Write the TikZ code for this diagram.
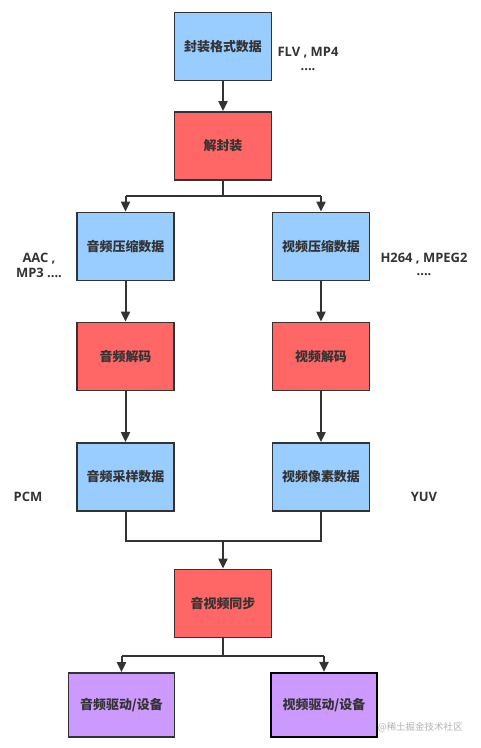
\documentclass[tikz,border=0pt]{standalone}
\usepackage{fontspec}
\setmainfont{Noto Sans CJK SC}
\newfontfamily\cjk{Noto Sans CJK SC}
\newfontfamily\latin{Open Sans}
\usetikzlibrary{arrows.meta}
\definecolor{bluefill}{HTML}{99CCFF}
\definecolor{redfill}{HTML}{FF6666}
\definecolor{purplefill}{HTML}{CC99FF}
\definecolor{edge}{HTML}{333333}
\definecolor{txt}{HTML}{333333}
\tikzset{
  box/.style={draw=edge, line width=1.8bp, minimum width=97bp, minimum height=68bp, inner sep=0pt,
    font=\cjk\bfseries\fontsize{13}{15}\selectfont, text=txt},
  bluebox/.style={box, fill=bluefill},
  redbox/.style={box, fill=redfill},
  purplebox/.style={box, fill=purplefill, minimum width=106bp, minimum height=64bp},
  conn/.style={draw=edge, line width=2bp},
  arr/.style={conn, -{Triangle[length=10bp,width=9bp]}},
  lbl/.style={font=\latin\bfseries\fontsize{13}{15}\selectfont, text=txt, align=center},
}
\begin{document}
\begin{tikzpicture}[x=1bp,y=-1bp]
\useasboundingbox[fill=white] (0,0) rectangle (481,748);
% nodes
\node[bluebox] (fmt) at (223,46.5) {封装格式数据};
\node[redbox] (demux) at (223,146) {解封装};
\node[bluebox] (acomp) at (125.5,246.5) {音频压缩数据};
\node[bluebox] (vcomp) at (321,246.5) {视频压缩数据};
\node[redbox] (adec) at (125.5,356.5) {音频解码};
\node[redbox] (vdec) at (321,356.5) {视频解码};
\node[bluebox] (araw) at (125.5,477) {音频采样数据};
\node[bluebox] (vraw) at (321,477) {视频像素数据};
\node[redbox] (sync) at (223,603.5) {音视频同步};
\node[purplebox] (aout) at (121.5,705) {音频驱动/设备};
\node[purplebox, draw=black, line width=2.2bp] (vout) at (324,705) {视频驱动/设备};
% labels
\node[lbl] (l1) at (308,53) {FLV , MP4};
\node[lbl] (l1b) at (308,70) {....};
\node[lbl] (l2) at (39,265) {AAC ,\\MP3 ....};
\node[lbl] (l3) at (424,259) {H264 , MPEG2};
\node[lbl] (l3b) at (424,275) {....};
\node[lbl] (l4) at (28,497) {PCM};
\node[lbl] (l5) at (424,497) {YUV};
\node[font=\cjk\fontsize{9.5}{11}\selectfont, text=black!30, anchor=east] (wm) at (466,727) {@稀土掘金技术社区};
% coordinates
\coordinate (s1) at (223,196);
\coordinate (sl) at (125.5,196);
\coordinate (sr) at (321,196);
\coordinate (m) at (223,541);
\coordinate (ml) at (125.5,541);
\coordinate (mr) at (321,541);
\coordinate (b) at (223,656);
\coordinate (bl) at (121.5,656);
\coordinate (br) at (324,656);
% connectors
\draw[arr] (fmt) -- (demux);
\draw[conn] (demux.south) -- (s1);
\draw[conn] (sl) -- (sr);
\draw[arr] (sl) -- (acomp.north);
\draw[arr] (sr) -- (vcomp.north);
\draw[arr] (acomp) -- (adec);
\draw[arr] (vcomp) -- (vdec);
\draw[arr] (adec) -- (araw);
\draw[arr] (vdec) -- (vraw);
\draw[conn] (araw.south) -- (ml) -- (mr) -- (vraw.south);
\draw[arr] (m) -- (sync.north);
\draw[conn] (sync.south) -- (b);
\draw[conn] (bl) -- (br);
\draw[arr] (bl) -- (aout.north);
\draw[arr] (br) -- (vout.north);
\end{tikzpicture}
\end{document}
